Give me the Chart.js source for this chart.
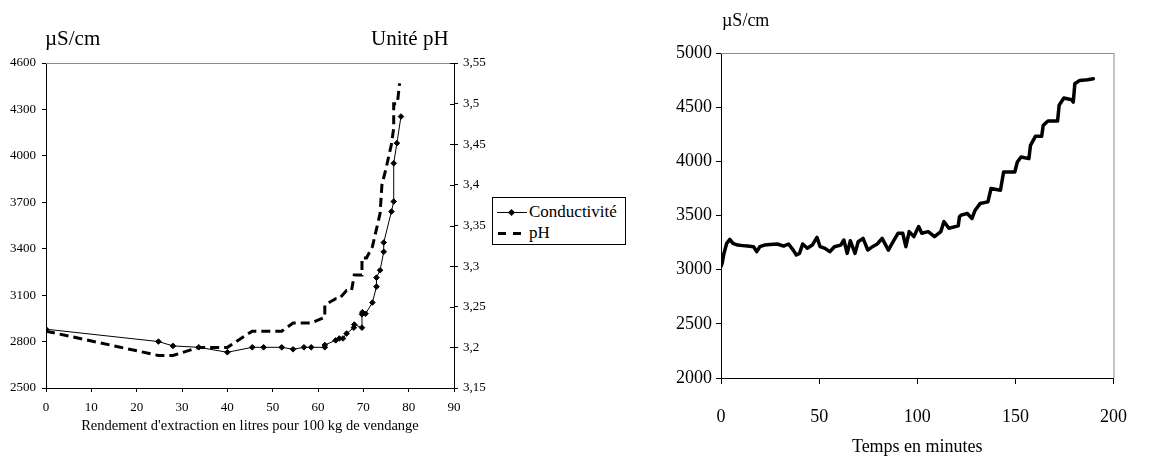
<!DOCTYPE html>
<html>
<head>
<meta charset="utf-8">
<script src="https://cdn.jsdelivr.net/npm/chart.js@4.4.0/dist/chart.umd.min.js"></script>
<style>
  body { margin: 0; background: #fff; width: 1149px; height: 463px; position: relative; overflow: hidden;
         font-family: "Liberation Serif", "Times New Roman", serif; color: #000; }
  #left { position: absolute; left: 0; top: 0; }
  #right { position: absolute; left: 640px; top: 0; }
  .unit { position: absolute; line-height: 1; white-space: nowrap; }
  #legend { position: absolute; left: 492px; top: 197px; width: 134px; height: 48px;
            border: 1px solid #000; background: #fff; font-size: 17px; box-sizing: border-box; }
  .row { position: absolute; left: 0; height: 20px; display: flex; align-items: center; }
  .sym { position: relative; width: 30px; height: 20px; margin-left: 4px; margin-right: 2px; }
  .sym .ln { position: absolute; left: 0; right: 0; top: 10px; height: 1px; background: #000; }
  .sym .dia { position: absolute; left: 12px; top: 7.5px; width: 5px; height: 5px; background: #000; transform: rotate(45deg); }
  .sym .dash { position: absolute; left: 1px; top: 9px; width: 24px; height: 3px;
               background: repeating-linear-gradient(to right, #000 0 8px, transparent 8px 15px); }
</style>
</head>
<body>
<canvas id="left" width="640" height="463"></canvas>
<canvas id="right" width="509" height="463"></canvas>

<div class="unit" style="left:45px; top:28px; font-size:21px;">µS/cm</div>
<div class="unit" style="left:371px; top:28px; font-size:21px;">Unité pH</div>
<div class="unit" style="left:722px; top:11px; font-size:18px;">µS/cm</div>

<div id="legend">
  <div class="row" style="top:4px;"><div class="sym"><div class="ln"></div><div class="dia"></div></div><span>Conductivité</span></div>
  <div class="row" style="top:25px;"><div class="sym"><div class="dash"></div></div><span>pH</span></div>
</div>

<script>
// --- left chart: conductivity and pH vs extraction yield
const yieldCond = [0, 24.8, 28, 33.7, 40, 45.5, 48, 52, 54.5, 56.9, 58.5, 61.5, 61.5, 63.9, 64.7, 65.5, 66.3,
                   67.9, 68, 69.7, 69.7, 69.8, 70.5, 72, 72.9, 72.9, 73.7, 74.5, 74.5, 76.2, 76.7, 76.7, 77.4, 78.3];
const conductivity = [2880, 2800, 2772, 2763, 2731, 2763, 2763, 2763, 2750, 2763, 2763, 2763, 2778, 2808, 2820, 2820, 2852,
                      2890, 2910, 2890, 2976, 2990, 2980, 3052, 3155, 3213, 3261, 3380, 3440, 3640, 3705, 3952, 4082, 4254];

const yieldPh = [0, 24.8, 28, 33.7, 40, 45.5, 52, 54.5, 58.5, 61.5, 61.5, 63.9, 64.7, 66.3, 67.4, 68, 69.7, 69.7, 70.7,
                 72, 73, 73.7, 74.1, 75, 76.2, 76.7, 76.7, 77.5, 78];
const phValues = [3.22, 3.19, 3.19, 3.20, 3.20, 3.22, 3.22, 3.23, 3.23, 3.237, 3.252, 3.26, 3.26, 3.27, 3.27, 3.289, 3.289, 3.31, 3.31,
                  3.324, 3.348, 3.365, 3.40, 3.42, 3.45, 3.47, 3.50, 3.50, 3.525];

// --- right chart: conductivity vs time
const timeMin = [0, 0.6, 1.5, 2.9, 4.5, 6.1, 8.5, 11, 13.5, 16.6, 18.2, 19.8, 22.2, 25, 28.7, 31.9, 34.4, 36.8, 38.4, 40,
                 41.6, 44, 46.5, 48.9, 50.5, 53, 55.4, 57.8, 61, 62.6, 64.3, 65.9, 68.3, 69.9, 72.4, 74.8, 77.2, 79.6,
                 82.1, 85.3, 87.7, 90.2, 92.6, 94.2, 95.9, 98.3, 100.7, 102.3, 105.6, 108.8, 112, 113.6, 116.1, 120.9,
                 121.5, 122.3, 125.5, 127.9, 129.5, 132, 136, 137.6, 142.4, 144, 149.7, 151, 152.9, 156.9, 157.7, 160.2,
                 163.4, 164.2, 166.6, 171.5, 172.3, 174.7, 178.7, 179.5, 180.3, 182.8, 186.8, 189.7];
const condTime = [3030, 3060, 3150, 3243, 3280, 3243, 3227, 3222, 3218, 3212, 3166, 3212, 3227, 3232, 3237, 3218, 3237, 3181, 3135, 3150,
                  3237, 3197, 3227, 3298, 3212, 3197, 3166, 3212, 3227, 3274, 3150, 3267, 3150, 3258, 3289, 3181, 3212, 3237,
                  3289, 3181, 3258, 3336, 3336, 3212, 3351, 3305, 3398, 3336, 3351, 3305, 3351, 3444, 3382, 3404,
                  3488, 3503, 3519, 3473, 3549, 3610, 3626, 3749, 3733, 3902, 3902, 3994, 4040, 4025, 4148, 4231,
                  4231, 4332, 4372, 4372, 4517, 4584, 4569, 4547, 4716, 4747, 4753, 4762];

const serif = '"Liberation Serif", "Times New Roman", serif';
Chart.defaults.font.family = serif;
Chart.defaults.color = '#000';

// grey frame lines + inner ticks on the right axis
const framePlugin = {
  id: 'frame',
  afterDraw(chart, args, opts) {
    const { ctx, chartArea: a } = chart;
    ctx.save();
    ctx.strokeStyle = '#8c8c8c';
    ctx.lineWidth = 1;
    ctx.beginPath();
    ctx.moveTo(a.left, a.top + 0.5);
    ctx.lineTo(a.right, a.top + 0.5);
    if (opts.rightGrey) {
      ctx.moveTo(a.right + 0.5, a.top);
      ctx.lineTo(a.right + 0.5, a.bottom);
    }
    ctx.stroke();
    if (opts.innerTicks && chart.scales.y1) {
      const s = chart.scales.y1;
      ctx.strokeStyle = '#000';
      ctx.beginPath();
      s.ticks.forEach(t => {
        const y = Math.round(s.getPixelForValue(t.value)) + 0.5;
        ctx.moveTo(a.right - 4, y);
        ctx.lineTo(a.right, y);
      });
      ctx.stroke();
    }
    ctx.restore();
  }
};

const plainFmt = v => String(v);
const commaFmt = v => String(Number(v.toFixed(2))).replace('.', ',');

new Chart(document.getElementById('left'), {
  type: 'line',
  data: {
    datasets: [
      {
        label: 'Conductivité',
        data: yieldCond.map((x, i) => ({ x, y: conductivity[i] })),
        yAxisID: 'y',
        borderColor: '#000',
        backgroundColor: '#000',
        borderWidth: 1,
        pointStyle: 'rectRot',
        pointRadius: 2.8,
        tension: 0
      },
      {
        label: 'pH',
        data: yieldPh.map((x, i) => ({ x, y: phValues[i] })),
        yAxisID: 'y1',
        borderColor: '#000',
        borderWidth: 3,
        borderDash: [9, 5],
        pointRadius: 0,
        tension: 0
      }
    ]
  },
  options: {
    responsive: false,
    animation: false,
    layout: { padding: { top: 63, left: 0, right: 0, bottom: 0 } },
    plugins: { legend: { display: false }, tooltip: { enabled: false }, frame: { innerTicks: true } },
    scales: {
      x: {
        type: 'linear', min: 0, max: 90,
        ticks: { stepSize: 10, maxRotation: 0, padding: 8, font: { size: 13 }, callback: plainFmt },
        grid: { drawOnChartArea: false, tickLength: 4, color: '#000' },
        border: { color: '#000' },
        title: { display: true, text: "Rendement d'extraction en litres pour 100 kg de vendange",
                 font: { size: 14.5 }, padding: { top: 0, bottom: 28 } },
        afterFit: s => { s.height = 75; }
      },
      y: {
        position: 'left', min: 2500, max: 4600,
        ticks: { stepSize: 300, padding: 6, font: { size: 13 }, callback: plainFmt },
        grid: { drawOnChartArea: false, tickLength: 4, color: '#000' },
        border: { color: '#000' },
        afterFit: s => { s.width = 46; }
      },
      y1: {
        position: 'right', min: 3.15, max: 3.55,
        ticks: { stepSize: 0.05, padding: 5, font: { size: 13 }, callback: commaFmt },
        grid: { drawOnChartArea: false, tickLength: 4, color: '#000' },
        border: { color: '#000' },
        afterFit: s => { s.width = 186; }
      }
    }
  },
  plugins: [framePlugin]
});

new Chart(document.getElementById('right'), {
  type: 'line',
  data: {
    datasets: [{
      label: 'Conductivité',
      data: timeMin.map((x, i) => ({ x, y: condTime[i] })),
      borderColor: '#000',
      borderWidth: 3.5,
      borderJoinStyle: 'round',
      borderCapStyle: 'round',
      pointRadius: 0,
      tension: 0
    }]
  },
  options: {
    responsive: false,
    animation: false,
    layout: { padding: { top: 53, left: 0, right: 15, bottom: 0 } },
    plugins: { legend: { display: false }, tooltip: { enabled: false }, frame: { rightGrey: true } },
    scales: {
      x: {
        type: 'linear', min: 0, max: 200,
        ticks: { stepSize: 50, maxRotation: 0, padding: 22, font: { size: 18 }, callback: plainFmt },
        grid: { drawOnChartArea: false, tickLength: 6, color: '#000' },
        border: { color: '#000' },
        title: { display: true, text: 'Temps en minutes', font: { size: 18 }, padding: { top: 0, bottom: 5 } },
        afterFit: s => { s.height = 85; }
      },
      y: {
        min: 2000, max: 5000,
        ticks: { stepSize: 500, padding: 4, font: { size: 18 }, callback: plainFmt },
        grid: { drawOnChartArea: false, tickLength: 5, color: '#000' },
        border: { color: '#000' },
        afterFit: s => { s.width = 81; }
      }
    }
  },
  plugins: [framePlugin]
});
</script>
</body>
</html>
